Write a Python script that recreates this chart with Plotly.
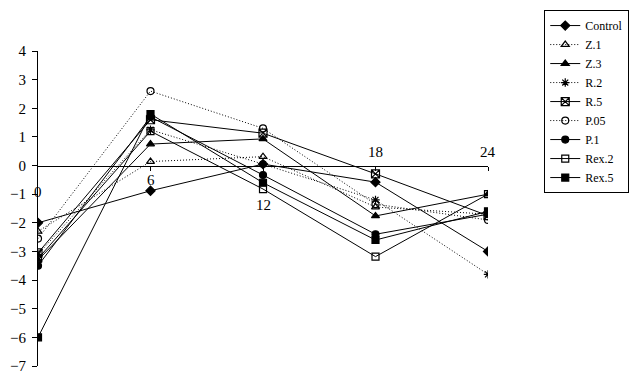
import plotly.graph_objects as go

# ---- data ----
hours = [0, 6, 12, 18, 24]
x_tick_labels = ["0", "6", "12", "18", "24"]
y_ticks = [4, 3, 2, 1, 0, -1, -2, -3, -4, -5, -6, -7]

series_names = ["Control", "Z.1", "Z.3", "R.2", "R.5", "P.05", "P.1", "Rex.2", "Rex.5"]
control = [-2.0, -0.88, 0.05, -0.58, -3.0]
z1 = [-2.3, 0.14, 0.31, -1.45, -1.7]
z3 = [-3.3, 0.75, 0.93, -1.76, -1.0]
r2 = [-3.1, 1.25, 0.05, -1.2, -3.8]
r5 = [-3.05, 1.6, 1.13, -0.29, -1.75]
p05 = [-2.55, 2.6, 1.3, -1.35, -1.9]
p1 = [-3.5, 1.7, -0.33, -2.4, -1.7]
rex2 = [-3.25, 1.2, -0.82, -3.18, -1.0]
rex5 = [-6.0, 1.8, -0.6, -2.6, -1.6]
series_values = [control, z1, z3, r2, r5, p05, p1, rex2, rex5]

# ---- styles ----
DOT = "1px,2px"
styles = [
    dict(dash="solid", symbol="diamond", size=7),
    dict(dash=DOT, symbol="triangle-up-open", size=7),
    dict(dash="solid", symbol="triangle-up", size=7),
    dict(dash=DOT, symbol="asterisk-open", size=7),
    dict(dash="solid", symbol="square-x-open", size=8),
    dict(dash=DOT, symbol="circle-open", size=7),
    dict(dash="solid", symbol="circle", size=7),
    dict(dash="solid", symbol="square-open", size=7),
    dict(dash="solid", symbol="square", size=7),
]
label_shift = [-26, -14, -39, 14, 14]  # vertical offsets of the x labels (px)

FONT = "Liberation Serif"

fig = go.Figure()
for name, vals, st in zip(series_names, series_values, styles):
    fig.add_trace(go.Scatter(
        x=hours, y=vals, name=name, mode="lines+markers",
        line=dict(color="black", width=1, dash=st["dash"]),
        marker=dict(symbol=st["symbol"], size=st["size"], color="black",
                    line=dict(color="black", width=1.2)),
    ))

for h, lab, sh in zip(hours, x_tick_labels, label_shift):
    fig.add_annotation(x=h, y=0, xref="x", yref="y", text=lab, showarrow=False,
                       yshift=sh, font=dict(family=FONT, size=15, color="black"))

# the page body adds an 8px margin, so the figure is sized/offset to compensate
fig.update_layout(
    width=636, height=365,
    margin=dict(l=30, r=156, t=43, b=7, autoexpand=False),
    paper_bgcolor="white", plot_bgcolor="white",
    font=dict(family=FONT, color="black"),
    showlegend=True,
    legend=dict(x=1.125, y=1.13, xanchor="left", yanchor="top",
                bordercolor="black", borderwidth=1, bgcolor="white",
                font=dict(family=FONT, size=12, color="black"),
                tracegroupgap=0, maxheight=400),
    xaxis=dict(range=[0, 24], anchor="free", position=7/11,
               showline=True, linecolor="black", linewidth=1,
               ticks="outside", ticklen=4, tickcolor="black",
               tickvals=hours[1:], showticklabels=False,
               showgrid=False, zeroline=False),
    yaxis=dict(range=[-7, 4], tickvals=y_ticks,
               showline=True, linecolor="black", linewidth=1,
               ticks="outside", ticklen=5, tickcolor="black",
               ticklabelstandoff=3, ticklabeloverflow="allow",
               tickfont=dict(family=FONT, size=15, color="black"),
               showgrid=False, zeroline=False),
)

fig.write_html("out.html")
